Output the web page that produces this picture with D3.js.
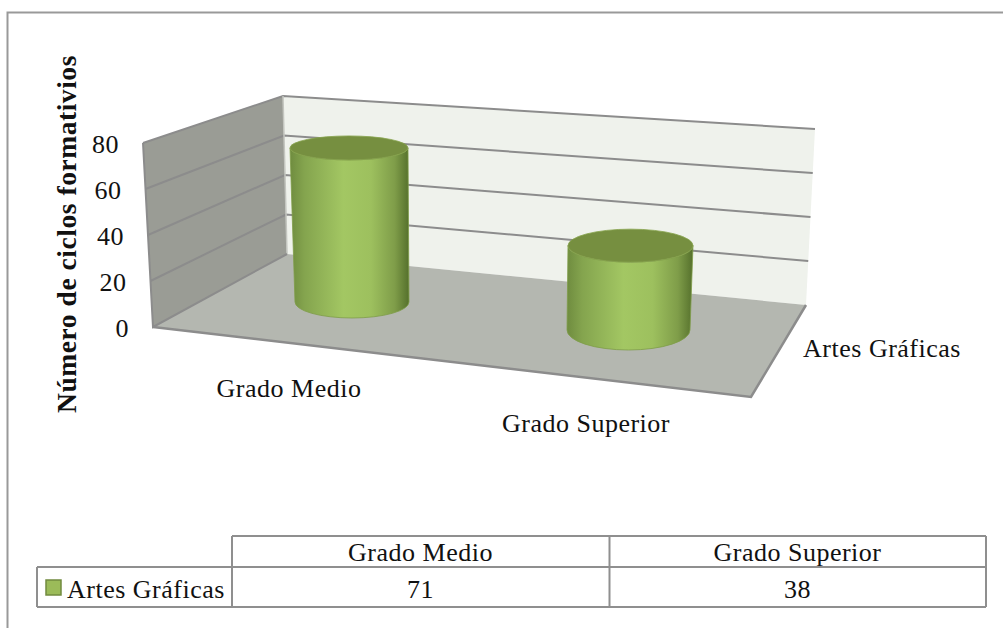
<!DOCTYPE html>
<html>
<head>
<meta charset="utf-8">
<script src="https://d3js.org/d3.v7.min.js"></script>
<style>
  body { margin: 0; background: #fff; }
  text { font-family: "Liberation Serif", serif; font-size: 26px; fill: #111; letter-spacing: 0.5px; }
  .title { font-weight: bold; font-size: 27.5px; letter-spacing: 0.55px; }
</style>
</head>
<body>
<svg id="chart" width="1003" height="628"></svg>
<script>
const categories = ["Grado Medio", "Grado Superior"];
const seriesName = "Artes Gráficas";
const seriesValues = [71, 38];
const yTicks = [0, 20, 40, 60, 80];
const yTitle = "Número de ciclos formativios";

const svg = d3.select("#chart");
const edge = "#8c8c8c";

// the three upright edges of the 3d box, all sharing the value domain
const box = {
    front: { x: d3.scaleLinear().domain([0, 80]).range([153, 143]), y: d3.scaleLinear().domain([0, 80]).range([327, 143]) },
    backL: { x: d3.scaleLinear().domain([0, 80]).range([287, 283]), y: d3.scaleLinear().domain([0, 80]).range([254, 96]) },
    backR: { x: d3.scaleLinear().domain([0, 80]).range([806, 815]), y: d3.scaleLinear().domain([0, 80]).range([305, 129]) }
};
const pt = (e, v) => [box[e].x(v), box[e].y(v)];
const floorFront = [751, 397];
const poly = d3.line();

const defs = svg.append("defs");
const body = defs.append("linearGradient").attr("id", "cyl");
[[0, "#6f8c3f"], [0.12, "#84a44e"], [0.45, "#a3c763"], [0.68, "#9dc05e"], [0.88, "#7f9d49"], [1, "#55702c"]]
    .forEach(s => body.append("stop").attr("offset", s[0]).attr("stop-color", s[1]));

// outer frame, open on the right and bottom
svg.append("path").attr("d", "M7.5,628V12.5H1003").attr("fill", "none").attr("stroke", "#999").attr("stroke-width", 2);

// walls and floor
svg.append("path").attr("d", poly([pt("front", 0), pt("front", 80), pt("backL", 80), pt("backL", 0)]) + "Z").attr("fill", "#9a9c95");
svg.append("path").attr("d", poly([pt("backL", 0), pt("backL", 80), pt("backR", 80), pt("backR", 0)]) + "Z").attr("fill", "#eff2ec");
svg.append("path").attr("d", poly([pt("front", 0), pt("backL", 0), pt("backR", 0), floorFront]) + "Z").attr("fill", "#b4b7b0");

// gridlines
svg.selectAll(".grid")
    .data(yTicks.slice(1))
    .enter().append("path")
    .attr("class", "grid")
    .attr("d", d => poly([pt("front", d), pt("backL", d), pt("backR", d)]))
    .attr("fill", "none")
    .attr("stroke", edge)
    .attr("stroke-width", 2);

// box outline
svg.append("path").attr("d", poly([pt("backL", 0), pt("backL", 80)])).attr("stroke", "#c4c6c0").attr("stroke-width", 1.5);
svg.append("path").attr("d", poly([pt("backL", 0), pt("front", 0), pt("front", 80)])).attr("fill", "none").attr("stroke", edge).attr("stroke-width", 2);
svg.append("path").attr("d", poly([pt("front", 0), floorFront, pt("backR", 0)])).attr("fill", "none").attr("stroke", edge).attr("stroke-width", 2.5);

// cylinders: each one has its own base and perspective size, the height comes from a y scale
const cylGeom = [
    { baseX: 352, baseY: 302, baseRx: 57, baseRy: 16, topX: 349, topRx: 59, topRy: 12, unit: 2.17 },
    { baseX: 628.5, baseY: 330, baseRx: 61.5, baseRy: 20, topX: 630.5, topRx: 62.5, topRy: 16.5, unit: 2.22 }
];
seriesValues.forEach((v, i) => {
    const g = cylGeom[i];
    const y = d3.scaleLinear().domain([0, 80]).range([g.baseY, g.baseY - 80 * g.unit]);
    const topY = y(v);
    const L = g.topX - g.topRx, R = g.topX + g.topRx, bL = g.baseX - g.baseRx, bR = g.baseX + g.baseRx;
    svg.append("path")
        .attr("d", `M${L},${topY}L${bL},${g.baseY}A${g.baseRx},${g.baseRy} 0 0 0 ${bR},${g.baseY}L${R},${topY}A${g.topRx},${g.topRy} 0 0 1 ${L},${topY}Z`)
        .attr("fill", "url(#cyl)")
        .attr("stroke", "#7f9d49")
        .attr("stroke-width", 0.8);
    svg.append("ellipse")
        .attr("cx", g.topX).attr("cy", topY)
        .attr("rx", g.topRx).attr("ry", g.topRy)
        .attr("fill", "#768f40")
        .attr("stroke", "#86a34c")
        .attr("stroke-width", 0.8);
});

// value labels follow the slanted front edge
svg.selectAll(".tick")
    .data(yTicks)
    .enter().append("text")
    .attr("class", "tick")
    .attr("x", d => box.front.x(d) - 24)
    .attr("y", d => box.front.y(d) + 10)
    .attr("text-anchor", "end")
    .text(d => d);

svg.append("text")
    .attr("class", "title")
    .attr("transform", "translate(76,234) rotate(-90)")
    .attr("text-anchor", "middle")
    .text(yTitle);

// category labels
const catPos = [[289, 397], [586, 432]];
svg.selectAll(".cat")
    .data(categories)
    .enter().append("text")
    .attr("class", "cat")
    .attr("x", (d, i) => catPos[i][0])
    .attr("y", (d, i) => catPos[i][1])
    .attr("text-anchor", "middle")
    .text(d => d);
svg.append("text").attr("x", 882).attr("y", 357).attr("text-anchor", "middle").text(seriesName);

// data table under the chart
const colX = d3.scaleBand().domain(categories).range([232, 986]);
const rows = [536, 567, 607];
const tableLine = (x1, y1, x2, y2) => svg.append("line")
    .attr("x1", x1).attr("y1", y1).attr("x2", x2).attr("y2", y2)
    .attr("stroke", "#8f8f8f").attr("stroke-width", 2);
tableLine(232, rows[0], 986, rows[0]);
tableLine(37, rows[1], 986, rows[1]);
tableLine(37, rows[2], 986, rows[2]);
tableLine(37, rows[1], 37, rows[2]);
tableLine(232, rows[0], 232, rows[2]);
tableLine(colX(categories[1]) + 0.5, rows[0], colX(categories[1]) + 0.5, rows[2]);
tableLine(986, rows[0], 986, rows[2]);

categories.forEach((c, i) => {
    const cx = colX(c) + colX.bandwidth() / 2;
    svg.append("text").attr("x", cx).attr("y", 561).attr("text-anchor", "middle").text(c);
    svg.append("text").attr("x", cx).attr("y", 598).attr("text-anchor", "middle").text(seriesValues[i]);
});
svg.append("rect").attr("x", 46).attr("y", 580).attr("width", 15).attr("height", 15)
    .attr("fill", "#9bbb59").attr("stroke", "#718b3f").attr("stroke-width", 1.5);
svg.append("text").attr("x", 67).attr("y", 598).text(seriesName);
</script>
</body>
</html>
